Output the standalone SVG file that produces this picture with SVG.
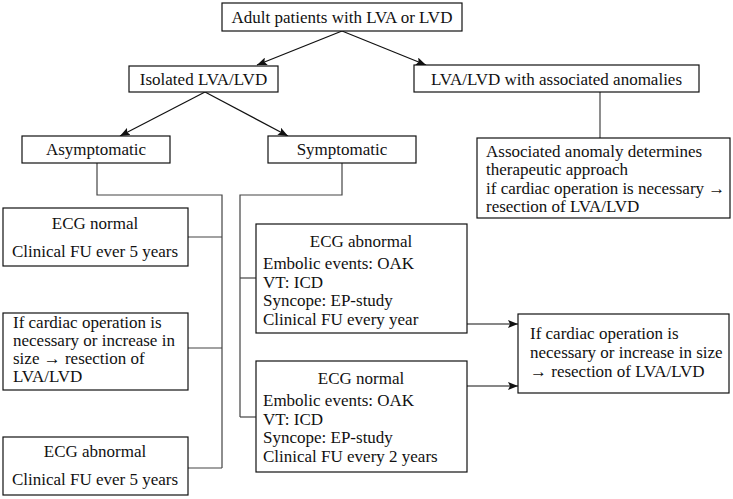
<svg xmlns="http://www.w3.org/2000/svg" width="733" height="499" viewBox="0 0 733 499">
<style>
.box{fill:#fff;stroke:#111;stroke-width:1.2}
.t{font-family:"Liberation Serif","Times New Roman",serif;font-size:17px;fill:#111}
.c{text-anchor:middle}
.ln{fill:none;stroke:#444;stroke-width:1.2}
.ar{fill:none;stroke:#111;stroke-width:1.2;marker-end:url(#ah)}
</style>
<defs>
<marker id="ah" viewBox="0 0 10 8" refX="10" refY="4" markerWidth="10" markerHeight="8" markerUnits="userSpaceOnUse" orient="auto">
<path d="M0,0 L10,4 L0,8 L2,4 Z" fill="#111"/>
</marker>
</defs>
<rect width="733" height="499" fill="#fff"/>
<g id="connectors">
<line class="ar" x1="342" y1="31" x2="257" y2="65"/>
<line class="ar" x1="342" y1="31" x2="426" y2="65"/>
<line class="ar" x1="205" y1="92" x2="120" y2="136"/>
<line class="ar" x1="205" y1="92" x2="288" y2="136"/>
<polyline class="ln" points="600,92 600,138"/>
<polyline class="ln" points="97,163 97,195 222,195 222,468"/>
<polyline class="ln" points="188,237 222,237"/>
<polyline class="ln" points="188,348 222,348"/>
<polyline class="ln" points="188,468 222,468"/>
<polyline class="ln" points="342,163 342,195 240,195 240,417"/>
<polyline class="ln" points="240,278 256,278"/>
<polyline class="ln" points="240,417 256,417"/>
<line class="ar" x1="467" y1="324" x2="518" y2="324"/>
<line class="ar" x1="467" y1="386" x2="518" y2="386"/>
</g>
<g id="n-root">
<rect class="box" x="222" y="3" width="240" height="28"/>
<text class="t c" x="342" y="23">Adult patients with LVA or LVD</text>
</g>
<g id="n-isolated">
<rect class="box" x="129" y="66" width="149" height="26"/>
<text class="t c" x="203.5" y="85">Isolated LVA/LVD</text>
</g>
<g id="n-associated">
<rect class="box" x="414" y="65" width="285" height="27"/>
<text class="t c" x="556.5" y="85">LVA/LVD with associated anomalies</text>
</g>
<g id="n-asymptomatic">
<rect class="box" x="22" y="136" width="148" height="27"/>
<text class="t c" x="96" y="155">Asymptomatic</text>
</g>
<g id="n-symptomatic">
<rect class="box" x="268" y="136" width="148" height="27"/>
<text class="t c" x="342" y="155">Symptomatic</text>
</g>
<g id="n-assoc-approach">
<rect class="box" x="477" y="138" width="253" height="80"/>
<text class="t" x="486" y="157">Associated anomaly determines</text>
<text class="t" x="486" y="175">therapeutic approach</text>
<text class="t" x="486" y="194">if cardiac operation is necessary →</text>
<text class="t" x="486" y="212">resection of LVA/LVD</text>
</g>
<g id="n-ecg-normal-asym">
<rect class="box" x="3" y="208" width="185" height="58"/>
<text class="t c" x="95" y="229">ECG normal</text>
<text class="t c" x="95" y="257">Clinical FU ever 5 years</text>
</g>
<g id="n-resection-asym">
<rect class="box" x="3" y="313" width="185" height="77"/>
<text class="t" x="13" y="328">If cardiac operation is</text>
<text class="t" x="13" y="346">necessary or increase in</text>
<text class="t" x="13" y="364">size → resection of</text>
<text class="t" x="13" y="382">LVA/LVD</text>
</g>
<g id="n-ecg-abnormal-asym">
<rect class="box" x="3" y="437" width="185" height="58"/>
<text class="t c" x="95" y="457">ECG abnormal</text>
<text class="t c" x="95" y="485">Clinical FU ever 5 years</text>
</g>
<g id="n-ecg-abnormal-sym">
<rect class="box" x="256" y="224" width="211" height="109"/>
<text class="t c" x="361" y="247">ECG abnormal</text>
<text class="t" x="263" y="269">Embolic events: OAK</text>
<text class="t" x="263" y="288">VT: ICD</text>
<text class="t" x="263" y="306">Syncope: EP-study</text>
<text class="t" x="263" y="325">Clinical FU every year</text>
</g>
<g id="n-ecg-normal-sym">
<rect class="box" x="256" y="361" width="211" height="111"/>
<text class="t c" x="361" y="384">ECG normal</text>
<text class="t" x="263" y="406">Embolic events: OAK</text>
<text class="t" x="263" y="425">VT: ICD</text>
<text class="t" x="263" y="443">Syncope: EP-study</text>
<text class="t" x="263" y="462">Clinical FU every 2 years</text>
</g>
<g id="n-resection-sym">
<rect class="box" x="518" y="314" width="211" height="79"/>
<text class="t" x="530" y="339">If cardiac operation is</text>
<text class="t" x="530" y="358">necessary or increase in size</text>
<text class="t" x="530" y="377">→ resection of LVA/LVD</text>
</g>
</svg>
